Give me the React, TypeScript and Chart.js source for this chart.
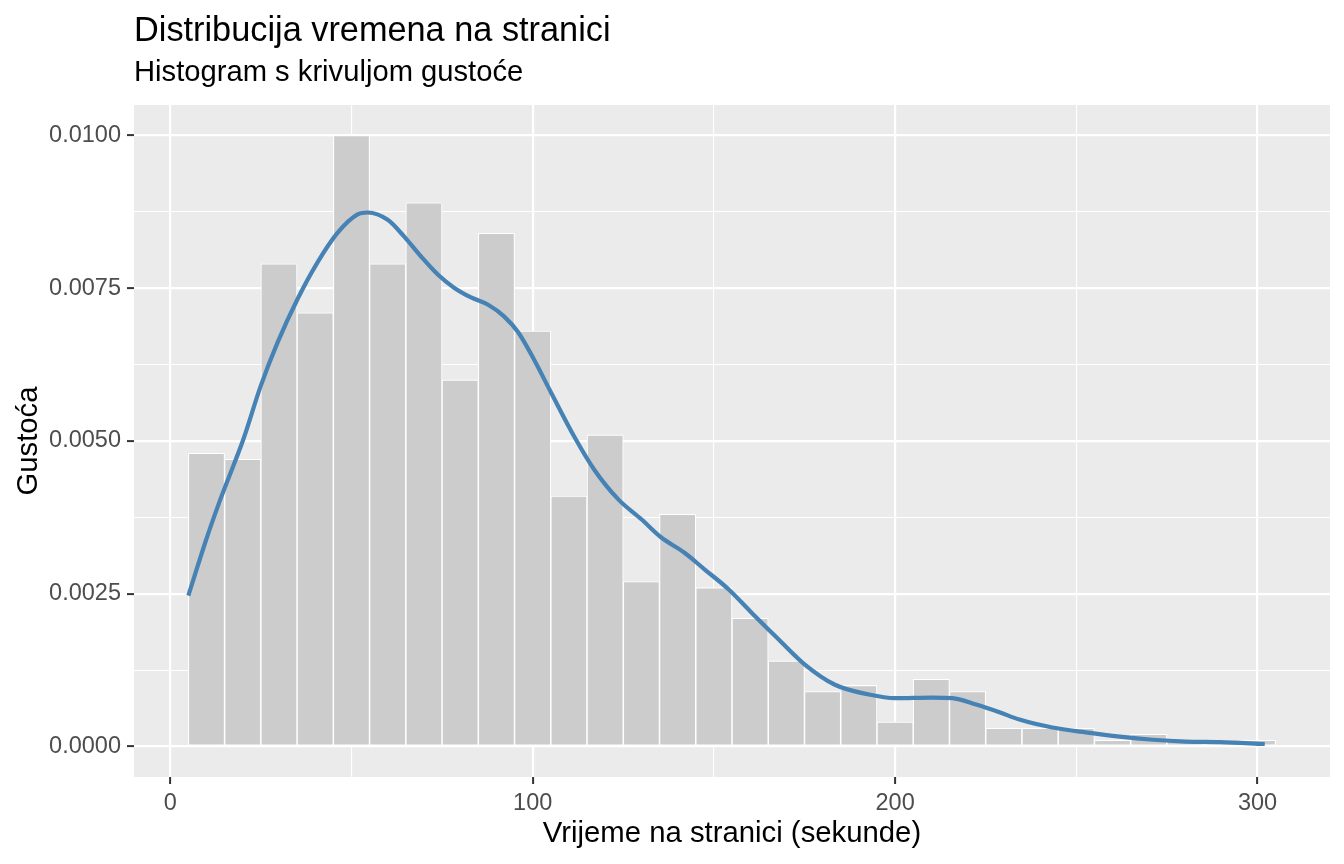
import React, { useEffect, useRef } from 'react';
import { Chart, registerables } from 'chart.js';

Chart.register(...registerables);

// Histogram: bins of width 10 from 5 to 305 (centres below), density values
const binCenters = [10, 20, 30, 40, 50, 60, 70, 80, 90, 100, 110, 120, 130, 140, 150, 160, 170, 180, 190, 200, 210, 220, 230, 240, 250, 260, 270, 280, 290, 300];
const binDensity = [0.0048, 0.0047, 0.0079, 0.0071, 0.0100, 0.0079, 0.0089, 0.0060, 0.0084, 0.0068, 0.0041, 0.0051, 0.0027, 0.0038, 0.0026, 0.0021, 0.0014, 0.0009, 0.0010, 0.0004, 0.0011, 0.0009, 0.0003, 0.0003, 0.0003, 0.0001, 0.0002, 0.0001, 0.0000, 0.0001];

// Density curve
const densityX = [5, 10, 13.8, 20.3, 24.9, 29.6, 35.1, 40.6, 46.2, 51.7, 54.5, 60, 64.5, 69.2, 73.9, 78.3, 83, 87.7, 92.1, 96, 100.4, 105.1, 111.5, 117, 123.7, 130, 135.5, 141.9, 147.4, 154.1, 160.4, 167.9, 175.1, 183.4, 192.8, 200, 210.2, 215.8, 222.1, 228.8, 234.3, 243.4, 252.6, 262, 271.1, 280.2, 289.6, 302];
const densityY = [0.00247, 0.0034, 0.00404, 0.00505, 0.00589, 0.00661, 0.00732, 0.00792, 0.00841, 0.00871, 0.00874, 0.00862, 0.00835, 0.00802, 0.00772, 0.00751, 0.00735, 0.00723, 0.00704, 0.00678, 0.00633, 0.00579, 0.00507, 0.00453, 0.00404, 0.00372, 0.00342, 0.00317, 0.0029, 0.00257, 0.00219, 0.00175, 0.00134, 0.00101, 0.00085, 0.00079, 0.0008, 0.00079, 0.00069, 0.00056, 0.00044, 0.00031, 0.00023, 0.00016, 0.00011, 0.00008, 0.00007, 0.00004];

const xMajorTicks = [0, 100, 200, 300];
const xTickLabels = ['0', '100', '200', '300'];
const xMinorTicks = [50, 150, 250];
const yMajorTicks = [0, 0.0025, 0.005, 0.0075, 0.01];
const yTickLabels = ['0.0000', '0.0025', '0.0050', '0.0075', '0.0100'];
const yMinorTicks = [0.00125, 0.00375, 0.00625, 0.00875];

const titleText = 'Distribucija vremena na stranici';
const subtitleText = 'Histogram s krivuljom gustoće';
const xTitle = 'Vrijeme na stranici (sekunde)';
const yTitle = 'Gustoća';

const FONT = "'Liberation Sans', Arial, sans-serif";

function buildTicks(major: number[], labels: string[], minor: number[]) {
  const t = major
    .map((v, i) => ({ value: v, txt: labels[i], isMajor: true }))
    .concat(minor.map((v) => ({ value: v, txt: '', isMajor: false })));
  return t.sort((a, b) => a.value - b.value);
}

const panelPlugin = {
  id: 'panelBg',
  beforeDraw(chart: any) {
    const { ctx, chartArea } = chart;
    ctx.save();
    ctx.fillStyle = '#EBEBEB';
    ctx.fillRect(chartArea.left, chartArea.top, chartArea.right - chartArea.left, chartArea.bottom - chartArea.top);
    ctx.restore();
  },
  afterDraw(chart: any) {
    const { ctx, chartArea } = chart;
    ctx.save();
    ctx.fillStyle = '#000000';
    ctx.textAlign = 'left';
    ctx.textBaseline = 'alphabetic';
    ctx.font = `34.3px ${FONT}`;
    ctx.fillText(titleText, chartArea.left, 41);
    ctx.font = `29.2px ${FONT}`;
    ctx.fillText(subtitleText, chartArea.left, 81);
    ctx.restore();
  },
};

export default function App() {
  const ref = useRef<HTMLCanvasElement | null>(null);

  useEffect(() => {
    document.body.style.margin = '0';
    const canvas = ref.current;
    if (!canvas) return;

    const tickColor = (c: any) => (c.tick && c.tick.isMajor ? '#333333' : 'rgba(0,0,0,0)');
    const gridWidth = (c: any) => (c.tick && c.tick.isMajor ? 2.2 : 1.1);

    const chart = new Chart(canvas, {
      type: 'bar',
      data: {
        datasets: [
          {
            type: 'line',
            data: densityX.map((x, i) => ({ x, y: densityY[i] })),
            borderColor: '#4682B4',
            borderWidth: 4.2,
            pointRadius: 0,
            fill: false,
            cubicInterpolationMode: 'monotone',
            borderCapStyle: 'butt',
            borderJoinStyle: 'round',
            order: 0,
          } as any,
          {
            type: 'bar',
            data: binCenters.map((x, i) => ({ x, y: binDensity[i] })),
            backgroundColor: '#CCCCCC',
            borderColor: '#FFFFFF',
            borderWidth: 1.1,
            borderSkipped: false,
            barPercentage: 1,
            categoryPercentage: 1,
            order: 1,
          } as any,
        ],
      },
      options: {
        animation: false,
        responsive: false,
        devicePixelRatio: 1,
        events: [],
        layout: { padding: { left: 0, right: 14, top: 105, bottom: 0 } },
        plugins: {
          legend: { display: false },
          tooltip: { enabled: false },
          title: { display: false },
        },
        scales: {
          x: {
            type: 'linear',
            min: -10,
            max: 320,
            offset: false,
            afterBuildTicks: (s: any) => {
              s.ticks = buildTicks(xMajorTicks, xTickLabels, xMinorTicks);
            },
            afterFit: (s: any) => {
              s.height = 87;
            },
            ticks: {
              autoSkip: false,
              maxRotation: 0,
              padding: 5,
              color: '#4D4D4D',
              font: { family: FONT, size: 23.5 },
              callback: (_v: any, i: number, ticks: any[]) => ticks[i].txt,
            },
            grid: {
              offset: false,
              color: '#FFFFFF',
              lineWidth: gridWidth,
              drawTicks: true,
              tickLength: 7,
              tickColor: tickColor,
              tickWidth: 2,
            },
            border: { display: false },
            title: {
              display: true,
              text: xTitle,
              color: '#000000',
              font: { family: FONT, size: 29.3 },
              padding: { top: 0, bottom: 13 },
            },
          },
          y: {
            type: 'linear',
            min: -0.0005,
            max: 0.0105,
            afterBuildTicks: (s: any) => {
              s.ticks = buildTicks(yMajorTicks, yTickLabels, yMinorTicks);
            },
            afterFit: (s: any) => {
              s.width = 134;
            },
            ticks: {
              autoSkip: false,
              padding: 6,
              color: '#4D4D4D',
              font: { family: FONT, size: 23.5 },
              callback: (_v: any, i: number, ticks: any[]) => ticks[i].txt,
            },
            grid: {
              offset: false,
              color: '#FFFFFF',
              lineWidth: gridWidth,
              drawTicks: true,
              tickLength: 7,
              tickColor: tickColor,
              tickWidth: 2,
            },
            border: { display: false },
            title: {
              display: true,
              text: yTitle,
              color: '#000000',
              font: { family: FONT, size: 29.3 },
              padding: { top: 11, bottom: 0 },
            },
          },
        },
      } as any,
      plugins: [panelPlugin],
    });

    return () => chart.destroy();
  }, []);

  return (
    <div style={{ position: 'absolute', left: 0, top: 0, width: 1344, height: 864 }}>
      <canvas ref={ref} width={1344} height={864} style={{ width: 1344, height: 864, display: 'block' }} />
    </div>
  );
}
